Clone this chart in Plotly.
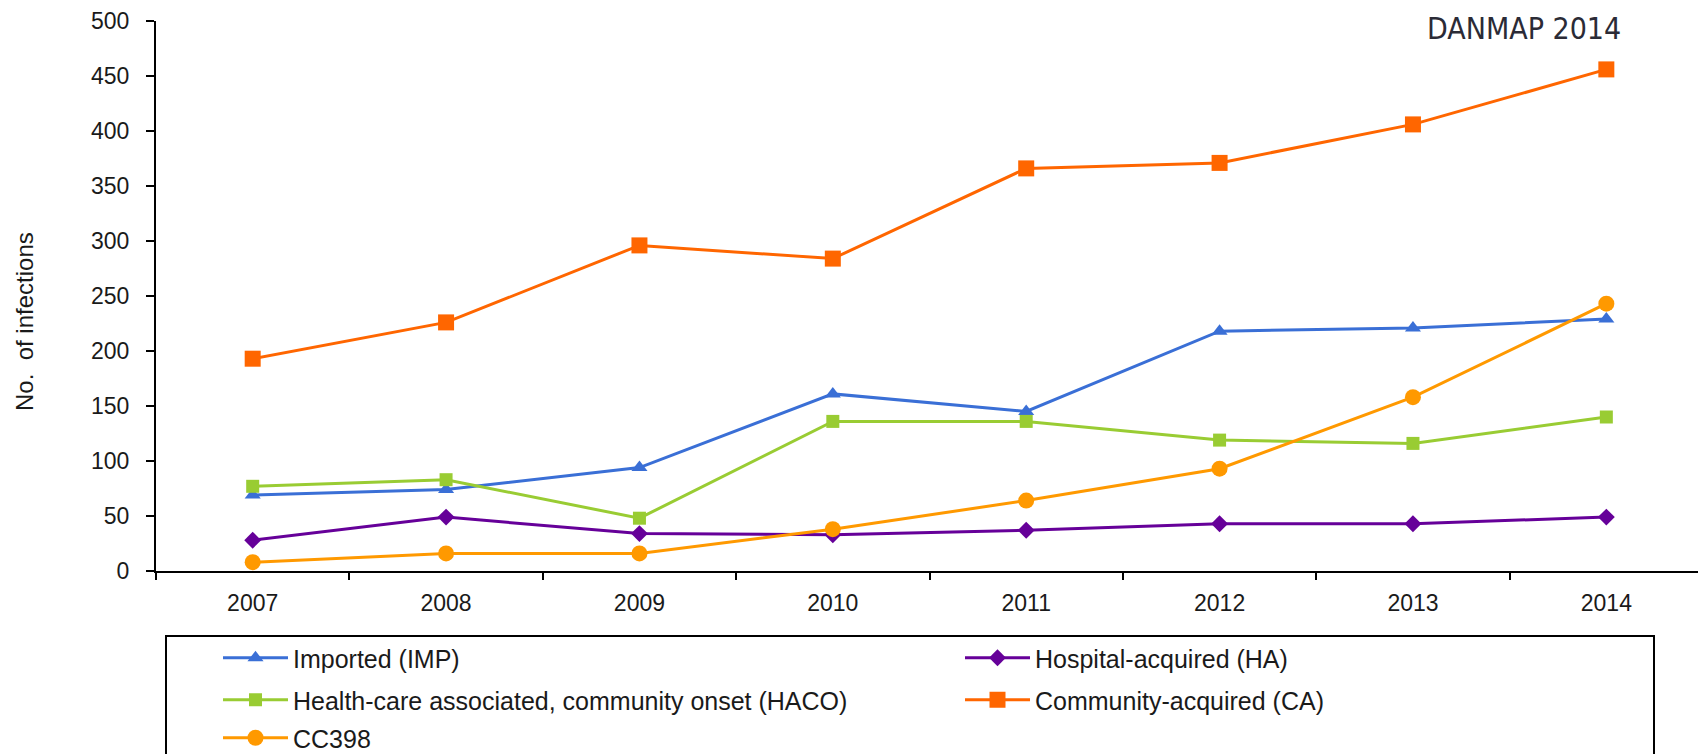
import plotly.graph_objects as go

years = ["2007", "2008", "2009", "2010", "2011", "2012", "2013", "2014"]
imported = [69, 74, 94, 161, 145, 218, 221, 229]
hospital = [28, 49, 34, 33, 37, 43, 43, 49]
haco = [77, 83, 48, 136, 136, 119, 116, 140]
community = [193, 226, 296, 284, 366, 371, 406, 456]
cc398 = [8, 16, 16, 38, 64, 93, 158, 243]
y_ticks = [0, 50, 100, 150, 200, 250, 300, 350, 400, 450, 500]

W, H = 1698, 754
L, R, T, B = 156, 0, 21, 183

FONT = "Liberation Sans, Arial, sans-serif"

fig = go.Figure()

def add(name, vals, color, symbol, size, legend):
    fig.add_trace(go.Scatter(
        x=years, y=vals, name=name, mode="lines+markers",
        line=dict(color=color, width=3),
        marker=dict(color=color, symbol=symbol, size=size, line=dict(width=0)),
        legend=legend,
    ))

add("Imported (IMP)", imported, "#3A6FD6", "triangle-up", 14, "legend")
add("Hospital-acquired (HA)", hospital, "#660099", "diamond", 13, "legend")
add("Health-care associated, community onset (HACO)", haco, "#99CC33", "square", 13, "legend2")
add("Community-acquired (CA)", community, "#FF6600", "square", 16, "legend2")
add("CC398", cc398, "#FF9900", "circle", 16, "legend3")

legend_common = dict(
    orientation="h", xref="container", yref="container",
    x=218 / W, xanchor="left", yanchor="middle",
    font=dict(family=FONT, size=25, color="#1a1a1a"),
    itemwidth=65, entrywidth=662, bgcolor="rgba(0,0,0,0)", borderwidth=0,
    itemclick=False, itemdoubleclick=False,
)

fig.update_layout(
    width=W, height=H,
    margin=dict(l=L, r=R, t=T, b=B, autoexpand=False),
    paper_bgcolor="white", plot_bgcolor="white",
    showlegend=True,
    legend=dict(legend_common, y=1 - 658 / H),
    legend2=dict(legend_common, y=1 - 700 / H),
    legend3=dict(legend_common, y=1 - 738 / H),
    xaxis=dict(
        type="category", categoryorder="array", categoryarray=years,
        range=[-0.5, 7.474], showline=True, linecolor="black", linewidth=2,
        ticks="outside", tickson="boundaries", ticklen=7, tickwidth=2, tickcolor="black",
        showgrid=False, zeroline=False,
        tickfont=dict(family=FONT, size=23, color="#1a1a1a"),
        ticklabelstandoff=10,
    ),
    yaxis=dict(
        range=[0, 500], tickvals=y_ticks, showline=True, linecolor="black", linewidth=2,
        ticks="outside", ticklen=8, tickwidth=2, tickcolor="black",
        showgrid=False, zeroline=False,
        tickfont=dict(family=FONT, size=23, color="#1a1a1a"),
        ticklabelstandoff=12,
    ),
    shapes=[dict(
        type="rect", xref="paper", yref="paper",
        x0=(166 - L) / (W - L - R), x1=(1654 - L) / (W - L - R),
        y0=(571 - 770) / (571 - T), y1=(571 - 636) / (571 - T),
        line=dict(color="black", width=2), fillcolor="rgba(0,0,0,0)",
    )],
    annotations=[
        dict(text="DANMAP 2014", xref="paper", yref="paper",
             x=(1524 - L) / (W - L - R), y=(571 - 29) / (571 - T),
             xanchor="center", yanchor="middle", showarrow=False,
             font=dict(family="DejaVu Sans Condensed, DejaVu Sans, sans-serif", size=30, color="#2b2b36")),
        dict(text="No.  of infections", xref="paper", yref="paper",
             x=(24 - L) / (W - L - R), y=(571 - 322) / (571 - T),
             xanchor="center", yanchor="middle", showarrow=False, textangle=-90,
             font=dict(family=FONT, size=24, color="#1a1a1a")),
    ],
)

fig.write_html(
    "out.html",
    config={"displayModeBar": False},
    post_script="document.body.style.margin='0';document.body.style.overflow='hidden';",
)
